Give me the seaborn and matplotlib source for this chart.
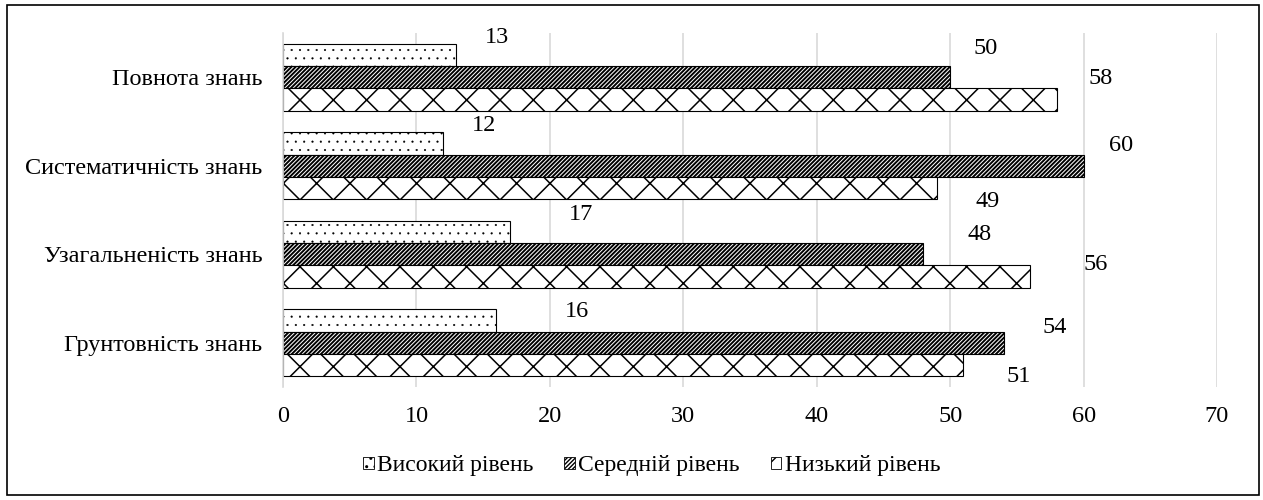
import pandas as pd
import matplotlib
matplotlib.use("Agg")
import matplotlib.pyplot as plt
from matplotlib.patches import Patch, Rectangle
import seaborn as sns

# data
categories = ["Повнота знань", "Систематичність знань", "Узагальненість знань", "Грунтовність знань"]
levels = ["Високий рівень", "Середній рівень", "Низький рівень"]
high = [13, 12, 17, 16]
middle = [50, 60, 48, 54]
low = [58, 49, 56, 51]

# label nudges (pixels right of bar end, pixels up from bar centre), per level then category
label_dx = [[41, 41, 71, 80], [35, 37, 56, 51], [44, 51, 65, 55]]
label_dy = [[17, 18, 17, 9], [29, 20, 20, 15], [21, -13, 12, -11]]

df = pd.DataFrame({
    "category": categories * 3,
    "level": [levels[0]] * 4 + [levels[1]] * 4 + [levels[2]] * 4,
    "value": high + middle + low,
})

sns.set_style("white")
plt.rcParams["font.family"] = ["Liberation Serif", "DejaVu Serif"]
plt.rcParams["text.color"] = "black"
plt.rcParams["xtick.color"] = "black"
plt.rcParams["ytick.color"] = "black"

fig = plt.figure(figsize=(12.63, 5), dpi=100)
ax = fig.add_axes([283 / 1263, 113 / 500, 934 / 1263, 354 / 500])

sns.barplot(data=df, y="category", x="value", hue="level", order=categories,
            hue_order=levels, palette=["white"] * 3, edgecolor="black",
            linewidth=0.8, width=0.757, orient="h", ax=ax, legend=False,
            saturation=1)

hatches = ["..", "////////", "x"]
hatch_lw = [0.3, 1.4, 1.1]
for i, cont in enumerate(ax.containers):
    for j, bar in enumerate(cont):
        bar.set_hatch(hatches[i])
        if hasattr(bar, "set_hatch_linewidth"):
            bar.set_hatch_linewidth(hatch_lw[i])
        w = bar.get_width()
        yc = bar.get_y() + bar.get_height() / 2
        ax.annotate(f"{w:g}", (w, yc), xytext=(label_dx[i][j], label_dy[i][j]),
                    textcoords="offset pixels", ha="center", va="center",
                    fontsize=17.5)

ax.set_xlim(0, 70)
ax.set_xticks(range(0, 71, 10))
ax.grid(axis="x", color="#d9d9d9", linewidth=1.2)
ax.set_axisbelow(True)
for s in ["top", "right", "bottom"]:
    ax.spines[s].set_visible(False)
ax.spines["left"].set_color("#d9d9d9")
ax.spines["left"].set_linewidth(1.2)
ax.set_xlabel("")
ax.set_ylabel("")
ax.tick_params(axis="x", length=0, pad=14, labelsize=17.5)
ax.tick_params(axis="y", length=0, pad=15, labelsize=17.5)

handles = [Patch(facecolor="white", edgecolor="black", hatch=h, linewidth=0.6) for h in hatches]
fig.legend(handles, levels, loc="center", bbox_to_anchor=(0.516, 0.068), ncol=3,
           frameon=False, fontsize=17, handlelength=0.45, handleheight=0.45,
           handletextpad=0.15, columnspacing=1.3)

fig.patches.append(Rectangle((7 / 1263, 5 / 500), 1252 / 1263, 490 / 500,
                             transform=fig.transFigure, fill=False,
                             edgecolor="black", linewidth=1.2))

fig.savefig("out.png", dpi=100)
